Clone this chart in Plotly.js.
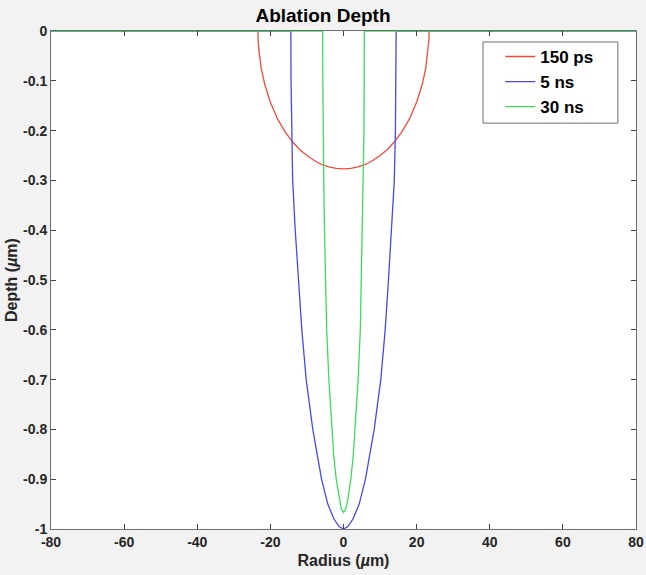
<!DOCTYPE html>
<html>
<head>
<meta charset="utf-8">
<script src="https://cdn.plot.ly/plotly-3.0.1.min.js"></script>
<style>
html,body{margin:0;padding:0;background:#f2f2f2;}
#chart{width:646px;height:575px;}
</style>
</head>
<body>
<div id="chart"></div>
<script>
// ---- data ----
const seriesNames = ["150 ps", "5 ns", "30 ns"];

const redRadius = [-80, -23.4, -23.35, -23.2, -22.5, -21.5, -20, -18, -16, -14, -12, -10, -8, -6, -4, -2, 0,
                   2, 4, 6, 8, 10, 12, 14, 16, 18, 20, 21.5, 22.5, 23.2, 23.35, 23.4, 80];
const redDepth  = [0, 0, -0.018, -0.035, -0.075, -0.108, -0.143, -0.177, -0.202, -0.222, -0.238, -0.25, -0.26, -0.268, -0.273, -0.276, -0.277,
                   -0.276, -0.273, -0.268, -0.26, -0.25, -0.238, -0.222, -0.202, -0.177, -0.143, -0.108, -0.075, -0.035, -0.018, 0, 0];

const blueRadius = [-80, -14.4, -14.35, -14.2, -13.9, -13.2, -12.3, -11.4, -10.2, -8.4, -6.0, -4.3, -2.6, -1.2, 0,
                    1.2, 2.6, 4.3, 6.0, 8.4, 10.2, 11.4, 12.3, 13.2, 13.9, 14.2, 14.35, 14.4, 80];
const blueDepth  = [0, 0, -0.1, -0.2, -0.3, -0.4, -0.5, -0.6, -0.7, -0.8, -0.9, -0.95, -0.98, -0.995, -1.0,
                    -0.995, -0.98, -0.95, -0.9, -0.8, -0.7, -0.6, -0.5, -0.4, -0.3, -0.2, -0.1, 0, 0];

const greenRadius = [-80, -5.7, -5.65, -5.6, -5.4, -5.2, -4.9, -4.6, -4.0, -3.2, -2.7, -2.0, -1.2, -0.6, 0,
                     0.6, 1.2, 2.0, 2.7, 3.2, 4.0, 4.6, 4.9, 5.2, 5.4, 5.6, 5.65, 5.7, 80];
const greenDepth  = [0, 0, -0.1, -0.2, -0.3, -0.4, -0.5, -0.6, -0.7, -0.8, -0.85, -0.9, -0.94, -0.96, -0.967,
                     -0.96, -0.94, -0.9, -0.85, -0.8, -0.7, -0.6, -0.5, -0.4, -0.3, -0.2, -0.1, 0, 0];

const xTickVals = [-80, -60, -40, -20, 0, 20, 40, 60, 80];
const xTickText = ["-80", "-60", "-40", "-20", "0", "20", "40", "60", "80"];
const yTickVals = [0, -0.1, -0.2, -0.3, -0.4, -0.5, -0.6, -0.7, -0.8, -0.9, -1];
const yTickText = ["0", "-0.1", "-0.2", "-0.3", "-0.4", "-0.5", "-0.6", "-0.7", "-0.8", "-0.9", "-1"];

// ---- chart ----
const FONT = "Liberation Sans, Arial, Helvetica, sans-serif";
const colors = ["#ef4a3c", "#4848e8", "#3ddc5a"];
const xs = [redRadius, blueRadius, greenRadius];
const ys = [redDepth, blueDepth, greenDepth];

const traces = seriesNames.map((n, i) => ({
  type: "scatter", mode: "lines", name: n,
  x: xs[i], y: ys[i],
  line: {color: colors[i], width: 1.3},
  hoverinfo: "skip"
}));

const axisCommon = {
  showgrid: false, zeroline: false,
  showline: true, linecolor: "#6e6e6e", linewidth: 1, mirror: "ticks",
  ticks: "inside", ticklen: 5, tickcolor: "#444", tickwidth: 1,
  tickfont: {family: FONT, size: 14, color: "#262626", weight: "bold"}
};

const layout = {
  width: 646, height: 575,
  margin: {l: 51, r: 10, t: 31, b: 46, pad: 0},
  paper_bgcolor: "#f2f2f2", plot_bgcolor: "#ffffff",
  title: {text: "Ablation Depth", x: 0.5, xanchor: "center", y: 0.985, yanchor: "top",
          font: {family: FONT, size: 19, color: "#000", weight: "bold"}},
  xaxis: Object.assign({}, axisCommon, {
    range: [-80, 80], tickmode: "array", tickvals: xTickVals, ticktext: xTickText,
    title: {text: "Radius (<i>µ</i>m)", standoff: 6, font: {family: FONT, size: 16, color: "#262626", weight: "bold"}}
  }),
  yaxis: Object.assign({}, axisCommon, {
    range: [-1, 0], tickmode: "array", tickvals: yTickVals, ticktext: yTickText,
    title: {text: "Depth (<i>µ</i>m)", standoff: 1, font: {family: FONT, size: 16, color: "#262626", weight: "bold"}}
  }),
  shapes: [{
    type: "rect", xref: "paper", yref: "paper",
    x0: 0.7385, x1: 0.969, y0: 0.815, y1: 0.978,
    line: {color: "#6e6e6e", width: 1}, fillcolor: "#ffffff", layer: "above"
  }],
  showlegend: true,
  legend: {x: 0.768, xanchor: "left", y: 0.984, yanchor: "top",
           bgcolor: "rgba(0,0,0,0)", borderwidth: 0,
           font: {family: FONT, size: 17, color: "#000", weight: "bold"},
           tracegroupgap: 0, itemwidth: 30}
};

Plotly.newPlot("chart", traces, layout, {displayModeBar: false, staticPlot: true});
</script>
</body>
</html>
